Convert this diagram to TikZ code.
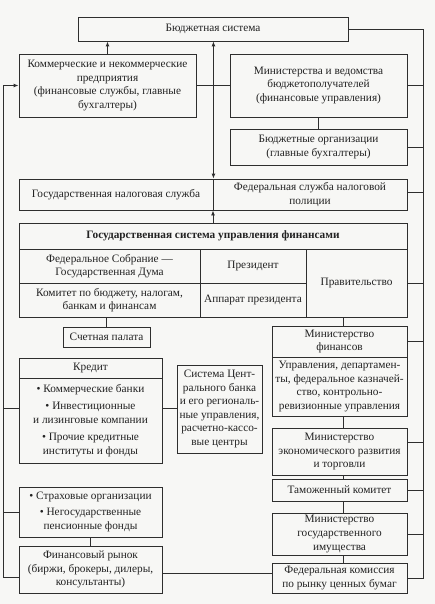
\documentclass[tikz,border=0pt]{standalone}
\usepackage{fontspec}
\setmainfont{Liberation Serif}
\usetikzlibrary{arrows.meta}
\definecolor{linec}{HTML}{2E2E2E}
\definecolor{textc}{HTML}{222222}
\definecolor{bgc}{HTML}{F7F7F5}
\begin{document}
\begin{tikzpicture}[x=1pt,y=-1pt,
  box/.style={draw=linec, line width=0.9pt, align=center, inner sep=1pt, text=textc,
    font=\fontsize{11.3}{13.6}\selectfont},
  conn/.style={draw=linec, line width=0.9pt},
  arr/.style={conn, -{Latex[length=5pt,width=4pt]}},
  darr/.style={conn, {Latex[length=5pt,width=4pt]}-{Latex[length=5pt,width=4pt]}}]
\fill[bgc] (0,0) rectangle (435,604);
\useasboundingbox (0,0) rectangle (435,604);

% top
\node[box, minimum width=270pt, minimum height=24pt] (bs) at (213,29) {Бюджетная система};
\node[box, minimum width=177pt, minimum height=63pt] (kom) at (107.5,85.5)
  {Коммерческие и некоммерческие\\предприятия\\(финансовые службы, главные\\бухгалтеры)};
\node[box, minimum width=177pt, minimum height=63pt] (min) at (318.5,85.5)
  {Министерства и ведомства\\бюджетополучателей\\(финансовые управления)};
\node[box, minimum width=177pt, minimum height=36pt] (borg) at (318.5,147)
  {Бюджетные организации\\(главные бухгалтеры)};

% tax
\node[box, minimum width=194pt, minimum height=31pt] (nall) at (116,194.5)
  {Государственная налоговая служба};
\node[box, minimum width=194pt, minimum height=31pt] (nalr) at (310,194.5)
  {Федеральная служба налоговой\\полиции};

% state system
\node[box, minimum width=388pt, minimum height=26pt, font=\fontsize{11.3}{13.6}\selectfont\bfseries] (gsh) at (213,236)
  {Государственная система управления финансами};
\node[box, minimum width=181pt, minimum height=34pt] (fs) at (109.5,266)
  {Федеральное Собрание —\\Государственная Дума};
\node[box, minimum width=106pt, minimum height=34pt] (pres) at (253,266) {Президент};
\node[box, minimum width=181pt, minimum height=34pt] (kb) at (109.5,300)
  {Комитет по бюджету, налогам,\\банкам и финансам};
\node[box, minimum width=106pt, minimum height=34pt] (app) at (253,300) {Аппарат президента};
\node[box, minimum width=101pt, minimum height=68pt] (prav) at (356.5,283) {Правительство};

\node[box, minimum width=87pt, minimum height=20pt] (sp) at (106.5,337) {Счетная палата};

% right column
\node[box, minimum width=135pt, minimum height=31pt] (mfh) at (339.5,341.5)
  {Министерство\\финансов};
\node[box, minimum width=135pt, minimum height=59pt] (mfb) at (339.5,386.5)
  {Управления, департамен-\\ты, федеральное казначей-\\ство, контрольно-\\ревизионные управления};
\node[box, minimum width=135pt, minimum height=47pt] (me) at (339.5,451.5)
  {Министерство\\экономического развития\\и торговли};
\node[box, minimum width=135pt, minimum height=22pt] (tk) at (339.5,490)
  {Таможенный комитет};
\node[box, minimum width=135pt, minimum height=42pt] (mgi) at (339.5,534)
  {Министерство\\государственного\\имущества};
\node[box, minimum width=135pt, minimum height=30pt] (fk) at (339.5,578)
  {Федеральная комиссия\\по рынку ценных бумаг};

% left column
\node[box, minimum width=143pt, minimum height=20pt] (krh) at (90.5,368) {Кредит};
\node[box, minimum width=143pt, minimum height=85pt] (krb) at (90.5,420.5)
  {• Коммерческие банки\\[3.5pt]• Инвестиционные\\и лизинговые компании\\[3.5pt]• Прочие кредитные\\институты и фонды};
\node[box, minimum width=85pt, minimum height=88pt] (cb) at (219.5,409)
  {Система Цент-\\рального банка\\и его региональ-\\ные управления,\\расчетно-кассо-\\вые центры};
\node[box, minimum width=143pt, minimum height=50pt] (str) at (90.5,512)
  {• Страховые организации\\[2.5pt]• Негосударственные\\пенсионные фонды};
\node[box, minimum width=143pt, minimum height=47pt] (fr) at (90.5,569.5)
  {Финансовый рынок\\(биржи, брокеры, дилеры,\\консультанты)};

% bus coordinates
\coordinate (rt) at (423,29);
\coordinate (rb) at (423,578);
\coordinate (lt) at (3,85.5);
\coordinate (lb) at (3,577);
\coordinate (rc) at (343,0);

% arrows
\draw[arr] (kom.north) -- (kom.north |- bs.south);
\draw[darr] (nall.north east) -- (nall.north east |- bs.south);
\draw[arr] (gsh.north) -- (gsh.north |- nall.south);

% links
\draw[conn] (kom.east) -- (min.west);
\draw[conn] (min.south) -- (borg.north);
\draw[conn] (sp.north) -- (sp.north |- kb.south);
\draw[conn] (mfh.north -| rc) -- (prav.south -| rc);
\draw[conn] (mfb.south -| rc) -- (me.north -| rc);
\draw[conn] (me.south -| rc) -- (tk.north -| rc);
\draw[conn] (tk.south -| rc) -- (mgi.north -| rc);
\draw[conn] (mgi.south -| rc) -- (fk.north -| rc);
\draw[conn] ([yshift=12pt]krb.east) -- ([yshift=12pt]krb.east -| cb.west);
\draw[conn] (str.south) -- (fr.north);
\draw[conn] ([yshift=-3.5pt]fr.east) -- ([yshift=-3.5pt]fr.east -| fk.west);

% right bus
\draw[conn] (bs.east) -- (rt) -- (rb) -- (fk.east);
\draw[conn] (min.east) -- (min.east -| rt);
\draw[conn] (borg.east) -- (borg.east -| rt);
\draw[conn] ([yshift=2pt]nalr.east) -- ([yshift=2pt]nalr.east -| rt);
\draw[conn] (prav.east) -- (prav.east -| rt);
\draw[conn] (mfh.east) -- (mfh.east -| rt);
\draw[conn] ([yshift=9.5pt]me.east) -- ([yshift=9.5pt]me.east -| rt);
\draw[conn] (tk.east) -- (tk.east -| rt);
\draw[conn] (mgi.east) -- (mgi.east -| rt);

% left bus
\draw[arr] ([yshift=-7.5pt]fr.west) -- (lb) -- (lt) -- (kom.west);
\draw[conn] ([yshift=12pt]krb.west -| lt) -- ([yshift=12pt]krb.west);
\draw[conn] (str.west -| lt) -- (str.west);
\end{tikzpicture}
\end{document}
